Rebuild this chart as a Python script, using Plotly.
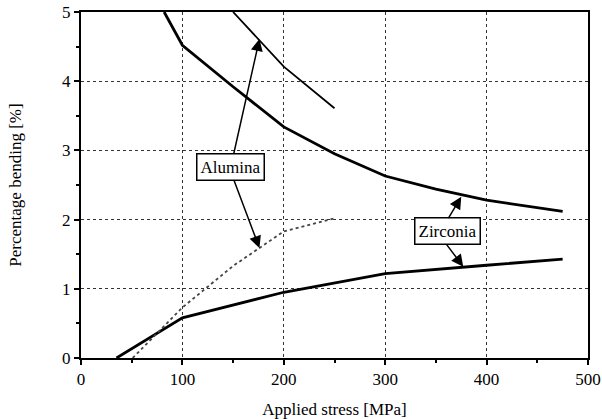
import plotly.graph_objects as go

# Zirconia (thick solid)
zr_upper_x = [82, 100, 150, 200, 250, 300, 350, 400, 475]
zr_upper_y = [5.0, 4.52, 3.92, 3.34, 2.95, 2.63, 2.44, 2.28, 2.12]
zr_lower_x = [35, 100, 200, 300, 400, 475]
zr_lower_y = [0.0, 0.58, 0.95, 1.22, 1.34, 1.43]

# Alumina (thin)
al_upper_x = [150, 200, 250]
al_upper_y = [5.0, 4.21, 3.61]
al_lower_x = [51, 100, 150, 200, 250]
al_lower_y = [0.0, 0.73, 1.33, 1.83, 2.02]

FONT = "Liberation Serif"

fig = go.Figure()
fig.add_trace(go.Scatter(x=zr_upper_x, y=zr_upper_y, mode="lines",
                         line=dict(color="black", width=2.8), showlegend=False))
fig.add_trace(go.Scatter(x=zr_lower_x, y=zr_lower_y, mode="lines",
                         line=dict(color="black", width=2.8), showlegend=False))
fig.add_trace(go.Scatter(x=al_upper_x, y=al_upper_y, mode="lines",
                         line=dict(color="black", width=1.8), showlegend=False))
fig.add_trace(go.Scatter(x=al_lower_x, y=al_lower_y, mode="lines",
                         line=dict(color="#444", width=1.8, dash="dot"), showlegend=False))

annos = []
annos.append(dict(x=147.3, y=2.76, text="Alumina", showarrow=False, xref="x", yref="y",
                  font=dict(family=FONT, size=17, color="black"),
                  bordercolor="black", borderwidth=1.5, borderpad=3, bgcolor="white"))
annos.append(dict(x=361.5, y=1.83, text="Zirconia", showarrow=False, xref="x", yref="y",
                  font=dict(family=FONT, size=17, color="black"),
                  bordercolor="black", borderwidth=1.5, borderpad=3, bgcolor="white"))
arrows = [
    (176, 4.61, 150.3, 2.93),
    (176, 1.59, 150.3, 2.59),
    (375, 2.33, 361.5, 2.0),
    (377, 1.32, 359.5, 1.66),
]
for x, y, ax, ay in arrows:
    annos.append(dict(x=x, y=y, ax=ax, ay=ay, xref="x", yref="y", axref="x", ayref="y",
                      text="", showarrow=True, arrowhead=2, arrowsize=1.6,
                      arrowwidth=1.5, arrowcolor="black"))

fig.update_layout(
    width=602, height=419,
    margin=dict(l=81, r=14, t=12, b=61),
    plot_bgcolor="white", paper_bgcolor="white",
    font=dict(family=FONT, size=17, color="black"),
    annotations=annos,
    xaxis=dict(range=[0, 500], tickvals=[0, 100, 200, 300, 400, 500], automargin=False,
               showline=True, linecolor="black", linewidth=2, mirror=True,
               ticks="outside", ticklen=5, tickwidth=1.5, tickcolor="black",
               minor=dict(tickvals=[50, 150, 250, 350, 450], ticks="outside", ticklen=3, tickcolor="black"),
               showgrid=True, gridcolor="#333", griddash="dot", gridwidth=1,
               zeroline=False,
               title=dict(text="Applied stress [MPa]", font=dict(family=FONT, size=17), standoff=16),
               tickfont=dict(family=FONT, size=17)),
    yaxis=dict(range=[0, 5], tickvals=[0, 1, 2, 3, 4, 5], automargin=False,
               showline=True, linecolor="black", linewidth=2, mirror=True,
               ticks="outside", ticklen=5, tickwidth=1.5, tickcolor="black",
               minor=dict(tickvals=[0.5, 1.5, 2.5, 3.5, 4.5], ticks="outside", ticklen=3, tickcolor="black"),
               showgrid=True, gridcolor="#333", griddash="dot", gridwidth=1,
               zeroline=False,
               title=dict(text="Percentage bending [%]", font=dict(family=FONT, size=17), standoff=36),
               tickfont=dict(family=FONT, size=17)),
)

fig.write_html("out.html")
